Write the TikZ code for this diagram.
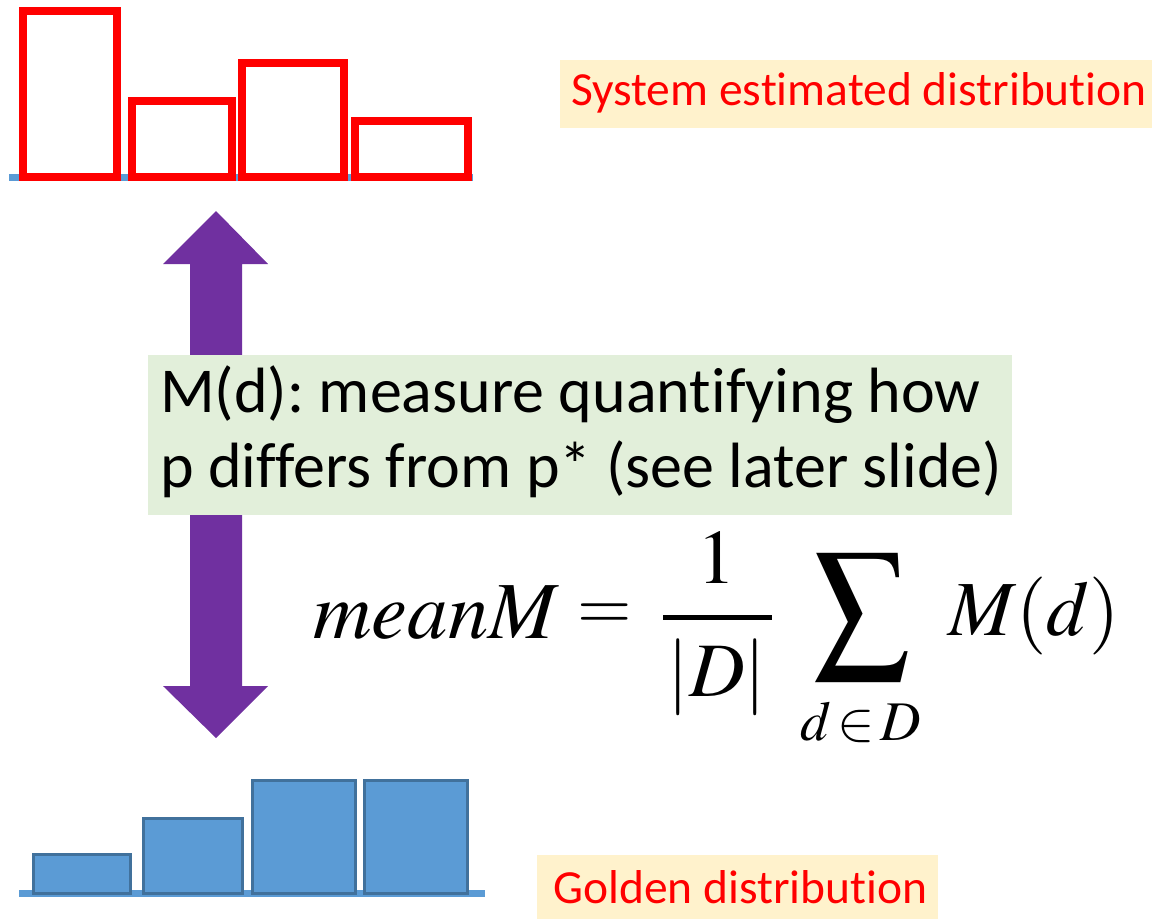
\documentclass[tikz,border=0pt]{standalone}
\usepackage{mathptmx}
\usepackage{graphicx}
\usepackage{fontspec}
\setmainfont{Carlito}[Ligatures=NoCommon]
\frenchspacing
\definecolor{redbar}{HTML}{FF0000}
\definecolor{bluefill}{HTML}{5B9BD5}
\definecolor{blueedge}{HTML}{41719C}
\definecolor{labelfill}{HTML}{FFF2CC}
\definecolor{greenfill}{HTML}{E2EFDA}
\definecolor{arrowpurple}{HTML}{7030A0}
\tikzset{
  redbox/.style={draw=redbar, line width=8pt, fill=white},
  bluebox/.style={draw=blueedge, line width=3pt, fill=bluefill},
  baseline/.style={draw=bluefill, line width=7pt},
  labelbg/.style={fill=labelfill, draw=none},
  labeltext/.style={text=redbar, font=\fontsize{47.5}{56}\selectfont, inner sep=0pt, anchor=base west},
  greentext/.style={text=black, font=\fontsize{64}{75}\selectfont, inner sep=0pt, anchor=base west},
  mathbig/.style={inner sep=0pt, font=\fontsize{78}{86}\selectfont},
  mathsmall/.style={inner sep=0pt, font=\fontsize{56}{64}\selectfont},
}
\begin{document}
\begin{tikzpicture}[x=1pt, y=-1pt]
\useasboundingbox (0,0) rectangle (1155,919);
% top distribution
\draw[baseline] (9,177) -- (473,177);
\draw[redbox] (23,11) rectangle (117,177);
\draw[redbox] (132,101) rectangle (232,177);
\draw[redbox] (242,63) rectangle (344,177);
\draw[redbox] (355,121) rectangle (468,177);
% label top
\fill[labelbg] (560,60) rectangle (1152,128);
\node[labeltext] (sys) at (571,105) {System estimated distribution};
% bottom distribution
\draw[baseline] (19,893) -- (485,893);
\draw[bluebox] (33,854) rectangle (130,893);
\draw[bluebox] (143,818) rectangle (242,893);
\draw[bluebox] (252,780) rectangle (355,893);
\draw[bluebox] (364,780) rectangle (467,893);
% label bottom
\fill[labelbg] (537,855) rectangle (938,919);
\node[labeltext] (gold) at (553,903) {Golden distribution};
% double arrow
\coordinate (tiptop) at (216,211);
\coordinate (tipbot) at (216,738);
\fill[arrowpurple] (tiptop) -- (268,264) -- (242,264) -- (242,686) -- (268,686) -- (tipbot)
  -- (163,686) -- (190,686) -- (190,264) -- (163,264) -- cycle;
% green box
\fill[greenfill] (148,355) rectangle (1012,515);
\node[greentext] (m1) at (160,412) {M(d): measure quantifying how};
\node[greentext] (m2) at (160,487) {p differs from p* (see later slide)};
% formula
\node[mathbig, font=\fontsize{81}{90}\selectfont, anchor=base west] (mean) at (313,638) {$meanM$};
\node[mathbig, font=\fontsize{70}{80}\selectfont, anchor=center] (eq) at (605,617) {$=$};
\node[mathbig, font=\fontsize{77}{86}\selectfont, anchor=base] (one) at (717,583) {$1$};
\coordinate (barl) at (663,617);
\coordinate (barr) at (772,617);
\draw[line width=5pt] (barl) -- (barr);
\node[mathbig, font=\fontsize{77}{86}\selectfont, anchor=base] (den) at (717,696) {$|D|$};
\node[inner sep=0pt, anchor=north west] (sum) at (813,553)
  {\resizebox*{97pt}{127pt}{$\displaystyle\sum$}};
\node[mathsmall, anchor=base west] (sub) at (800,740) {$d\,{\in}\,D$};
\node[mathbig, anchor=base west] (md) at (948,635) {$M(d)$};
\end{tikzpicture}
\end{document}
